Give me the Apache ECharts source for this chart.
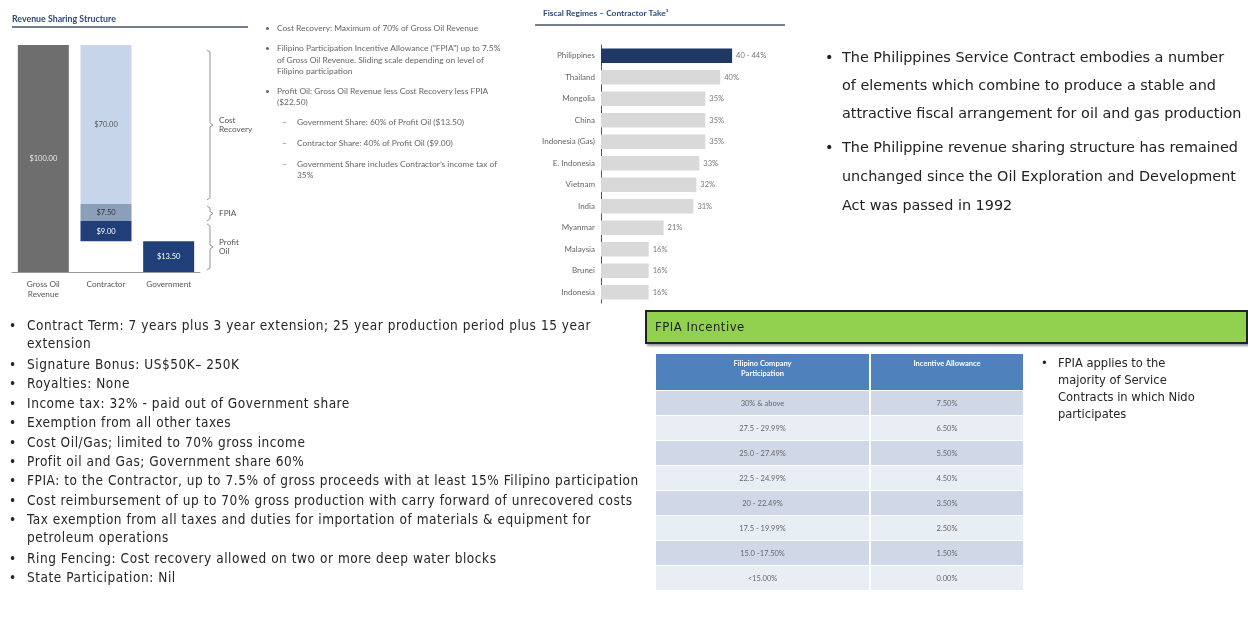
<!DOCTYPE html>
<html><head><meta charset="utf-8">
<script src="https://cdn.jsdelivr.net/npm/echarts@6/dist/echarts.min.js"></script>
<style>
html,body{margin:0;padding:0;background:#fff;width:1248px;height:631px;overflow:hidden;position:relative;}
#chart{position:absolute;left:0;top:0;width:1248px;height:631px;}
.ln{position:absolute;white-space:nowrap;}
.mid{font-family:Lato,'Open Sans',sans-serif;font-size:8.4px;color:#666;line-height:10px;height:10px;}
.tr{font-family:'DejaVu Sans',sans-serif;font-size:14.4px;color:#222;line-height:20px;height:20px;}
.bl{font-family:'DejaVu Sans Condensed','DejaVu Sans',sans-serif;font-size:13.5px;letter-spacing:0.55px;color:#262626;line-height:18px;height:18px;}
.sd{font-family:'DejaVu Sans Condensed','DejaVu Sans',sans-serif;font-size:12.8px;color:#262626;line-height:18px;height:18px;}
#green{position:absolute;left:645px;top:310px;width:591px;height:30px;background:#92d050;border:2px solid #222;box-shadow:2px 2px 2px #999;
  font-family:'DejaVu Sans Condensed','DejaVu Sans',sans-serif;font-size:13px;letter-spacing:0.5px;color:#222;line-height:30px;padding-left:8px;box-sizing:content-box;z-index:6;}
#tbl{position:absolute;left:656px;top:354px;border-collapse:collapse;font-family:Lato,'Open Sans',sans-serif;z-index:5;}
#tbl td,#tbl th{padding:0;text-align:center;border-right:2px solid #fff;border-bottom:1px solid #fff;}
#tbl th{background:#4f81bd;color:#fff;font-size:7.5px;font-weight:bold;height:36px;vertical-align:top;line-height:10px;}
#tbl th div{padding-top:5px;}
#tbl td{font-size:7.5px;color:#666;height:24px;}
#tbl tr.odd td{background:#d0d8e8;}
#tbl tr.even td{background:#e9edf4;}
</style></head><body>
<div id="chart"></div>
<div id="txt"></div>
<div id="green">FPIA Incentive</div>
<table id="tbl"></table>
<script>
// ---------- data ----------
const revCats = ['Gross Oil\nRevenue', 'Contractor', 'Government'];
const revBase = [0, 13.5, 0];
const revGross = [100, null, null];
const revProfit = [null, 9.0, 13.5];
const revFpia = [null, 7.5, null];
const revCost = [null, 70.0, null];

const fiscalCats = ['Philippines', 'Thailand', 'Mongolia', 'China', 'Indonesia (Gas)', 'E. Indonesia', 'Vietnam', 'India', 'Myanmar', 'Malaysia', 'Brunei', 'Indonesia'];
const fiscalVals = [44, 40, 35, 35, 35, 33, 32, 31, 21, 16, 16, 16];
const fiscalLabels = ['40 - 44%', '40%', '35%', '35%', '35%', '33%', '32%', '31%', '21%', '16%', '16%', '16%'];

const fpiaHeader = ['Filipino Company<br>Participation', 'Incentive Allowance'];
const fpiaParticipation = ['30% & above', '27.5 - 29.99%', '25.0 - 27.49%', '22.5 - 24.99%', '20 - 22.49%', '17.5 - 19.99%', '15.0 -17.50%', '<15.00%'];
const fpiaAllowance = ['7.50%', '6.50%', '5.50%', '4.50%', '3.50%', '2.50%', '1.50%', '0.00%'];

// ---------- texts ----------
const txt = document.getElementById('txt');
function line(cls, x, yc, text, lh) {
  const d = document.createElement('div');
  d.className = 'ln ' + cls;
  d.style.left = x + 'px';
  d.style.top = (yc - lh / 2) + 'px';
  d.textContent = text;
  txt.appendChild(d);
}
const midLines = [
  [265, 28, '•'], [277, 28, 'Cost Recovery: Maximum of 70% of Gross Oil Revenue'],
  [265, 48, '•'], [277, 48, 'Filipino Participation Incentive Allowance ("FPIA") up to 7.5%'],
  [277, 60, 'of Gross Oil Revenue. Sliding scale depending on level of'],
  [277, 71, 'Filipino participation'],
  [265, 91, '•'], [277, 91, 'Profit Oil: Gross Oil Revenue less Cost Recovery less FPIA'],
  [277, 102, '($22.50)'],
  [282, 122, '–'], [297, 122, 'Government Share: 60% of Profit Oil ($13.50)'],
  [282, 143, '–'], [297, 143, 'Contractor Share: 40% of Profit Oil ($9.00)'],
  [282, 164, '–'], [297, 164, 'Government Share includes Contractor\u2019s income tax of'],
  [297, 175, '35%']
];
midLines.forEach(l => line('mid', l[0], l[1], l[2], 10));
const trLines = [
  [825, 57, '•'], [842, 57, 'The Philippines Service Contract embodies a number'],
  [842, 85, 'of elements which combine to produce a stable and'],
  [842, 113, 'attractive fiscal arrangement for oil and gas production'],
  [825, 147, '•'], [842, 147, 'The Philippine revenue sharing structure has remained'],
  [842, 176, 'unchanged since the Oil Exploration and Development'],
  [842, 205, 'Act was passed in 1992']
];
trLines.forEach(l => line('tr', l[0], l[1], l[2], 20));
const blLines = [
  [9, 325, '•'], [27, 325, 'Contract Term: 7 years plus 3 year extension; 25 year production period plus 15 year'],
  [27, 343, 'extension'],
  [9, 364, '•'], [27, 364, 'Signature Bonus: US$50K\u2013 250K'],
  [9, 383, '•'], [27, 383, 'Royalties: None'],
  [9, 403, '•'], [27, 403, 'Income tax: 32% - paid out of Government share'],
  [9, 422, '•'], [27, 422, 'Exemption from all other taxes'],
  [9, 442, '•'], [27, 442, 'Cost Oil/Gas; limited to 70%  gross income'],
  [9, 461, '•'], [27, 461, 'Profit oil and Gas; Government share 60%'],
  [9, 480, '•'], [27, 480, 'FPIA: to the Contractor, up to 7.5% of gross proceeds with at least 15% Filipino participation'],
  [9, 500, '•'], [27, 500, 'Cost reimbursement of up to 70% gross production with carry forward of unrecovered costs'],
  [9, 519, '•'], [27, 519, 'Tax exemption from all taxes and duties for importation of materials & equipment for'],
  [27, 537, 'petroleum operations'],
  [9, 558, '•'], [27, 558, 'Ring Fencing: Cost recovery allowed on two or more deep water blocks'],
  [9, 577, '•'], [27, 577, 'State Participation: Nil']
];
blLines.forEach(l => line('bl', l[0], l[1], l[2], 18));
const sideLines = [
  [1041, 363, '•'], [1058, 363, 'FPIA applies to the'],
  [1058, 380, 'majority of Service'],
  [1058, 397, 'Contracts in which Nido'],
  [1058, 414, 'participates']
];
sideLines.forEach(l => line('sd', l[0], l[1], l[2], 18));

const tbl = document.getElementById('tbl');
let html = '<tr><th style="width:213px"><div>' + fpiaHeader[0] + '</div></th><th style="width:152px"><div>' + fpiaHeader[1] + '</div></th></tr>';
fpiaParticipation.forEach((p, i) => {
  html += '<tr class="' + (i % 2 === 0 ? 'odd' : 'even') + '"><td>' + p.replace('<', '&lt;') + '</td><td>' + fpiaAllowance[i] + '</td></tr>';
});
tbl.innerHTML = html;

// ---------- chart ----------
const chart = echarts.init(document.getElementById('chart'), null, { renderer: 'canvas' });
const navy = '#203f78';
const lblFont = { fontFamily: 'Lato, sans-serif', fontSize: 7.5 };
const option = {
  animation: false,
  grid: [
    { left: 12, top: 45, width: 188, height: 227 },
    { left: 601, top: 45, width: 178.8, height: 258 }
  ],
  xAxis: [
    { type: 'category', gridIndex: 0, data: revCats,
      axisLine: { lineStyle: { color: '#999', width: 1 } }, axisTick: { show: false },
      axisLabel: { color: '#555', lineHeight: 9.5, margin: 8, fontSize: 8.2, fontFamily: 'Lato, sans-serif' } },
    { type: 'value', gridIndex: 1, min: 0, max: 60, show: false }
  ],
  yAxis: [
    { type: 'value', gridIndex: 0, min: 0, max: 100, show: false },
    { type: 'category', gridIndex: 1, data: fiscalCats, inverse: true,
      axisLine: { lineStyle: { color: '#555', width: 1 } }, axisTick: { show: false },
      axisLabel: { color: '#666', fontSize: 8, margin: 6, fontFamily: 'Lato, sans-serif' } }
  ],
  series: [
    { type: 'bar', stack: 'rev', xAxisIndex: 0, yAxisIndex: 0, barWidth: 51, data: revBase,
      itemStyle: { color: 'transparent' }, silent: true },
    { type: 'bar', stack: 'rev', xAxisIndex: 0, yAxisIndex: 0, barWidth: 51, data: revGross,
      itemStyle: { color: '#6e6e6e' },
      label: Object.assign({ show: true, position: 'inside', color: '#e8e8e8', formatter: p => '$' + p.value.toFixed(2) }, lblFont) },
    { type: 'bar', stack: 'rev', xAxisIndex: 0, yAxisIndex: 0, barWidth: 51, data: revProfit,
      itemStyle: { color: navy },
      label: Object.assign({ show: true, position: 'inside', color: '#fff', formatter: p => '$' + p.value.toFixed(2) }, lblFont) },
    { type: 'bar', stack: 'rev', xAxisIndex: 0, yAxisIndex: 0, barWidth: 51, data: revFpia,
      itemStyle: { color: '#8c9fba' },
      label: Object.assign({ show: true, position: 'inside', color: '#333', formatter: p => '$' + p.value.toFixed(2) }, lblFont) },
    { type: 'bar', stack: 'rev', xAxisIndex: 0, yAxisIndex: 0, barWidth: 51, data: revCost,
      itemStyle: { color: '#c6d5ea' },
      label: Object.assign({ show: true, position: 'inside', color: '#555', formatter: p => '$' + p.value.toFixed(2) }, lblFont) },
    { type: 'bar', xAxisIndex: 1, yAxisIndex: 1, barWidth: 14.5,
      data: fiscalVals.map((v, i) => ({ value: v, itemStyle: { color: i === 0 ? '#1f3864' : '#d9d9d9' } })),
      label: { show: true, position: 'right', distance: 4, color: '#777', fontSize: 7.5, fontFamily: 'Lato, sans-serif',
        formatter: p => fiscalLabels[p.dataIndex] } }
  ]
};
chart.setOption(option);

const yPix = v => chart.convertToPixel({ yAxisIndex: 0 }, v);
const costTop = revBase[1] + revProfit[1] + revFpia[1] + revCost[1];
const fpiaTop = revBase[1] + revProfit[1] + revFpia[1];
const profitTop = revBase[1] + revProfit[1];
function brace(x, y1, y2) {
  const ym = (y1 + y2) / 2;
  return { type: 'polyline', shape: { points: [[x - 3, y1], [x, y1 + 2], [x, ym - 2], [x + 3, ym], [x, ym + 2], [x, y2 - 2], [x - 3, y2]] },
    style: { stroke: '#777', lineWidth: 0.8, fill: null } };
}
const bx = 210;
const b1 = [yPix(costTop) + 5, yPix(fpiaTop) - 4];
const b2 = [yPix(fpiaTop) + 2, yPix(profitTop)];
const b3 = [yPix(profitTop) + 3, yPix(0) - 2];
const labStyle = { fill: '#555', fontSize: 8.2, fontFamily: 'Lato, sans-serif', lineHeight: 9, verticalAlign: 'middle' };
chart.setOption({
  graphic: [
    { type: 'text', left: 12, top: 15, style: { text: 'Revenue Sharing Structure', fill: '#2f4a78', fontSize: 8.8, fontWeight: 'bold', fontFamily: 'Lato, sans-serif' } },
    { type: 'line', shape: { x1: 12, y1: 27, x2: 248, y2: 27 }, style: { stroke: '#44546a', lineWidth: 1.5 } },
    { type: 'text', left: 543, top: 9, style: { text: 'Fiscal Regimes \u2013 Contractor Take\u00b9', fill: '#2f4a78', fontSize: 8.4, fontWeight: 'bold', fontFamily: 'Lato, sans-serif' } },
    { type: 'line', shape: { x1: 535, y1: 25, x2: 785, y2: 25 }, style: { stroke: '#44546a', lineWidth: 1.5 } },
    brace(bx, b1[0], b1[1]), brace(bx, b2[0], b2[1]), brace(bx, b3[0], b3[1]),
    { type: 'text', x: 219, y: (b1[0] + b1[1]) / 2, style: Object.assign({ text: 'Cost\nRecovery' }, labStyle) },
    { type: 'text', x: 219, y: (b2[0] + b2[1]) / 2, style: Object.assign({ text: 'FPIA' }, labStyle) },
    { type: 'text', x: 219, y: (b3[0] + b3[1]) / 2, style: Object.assign({ text: 'Profit\nOil' }, labStyle) }
  ]
});
</script>
</body></html>
